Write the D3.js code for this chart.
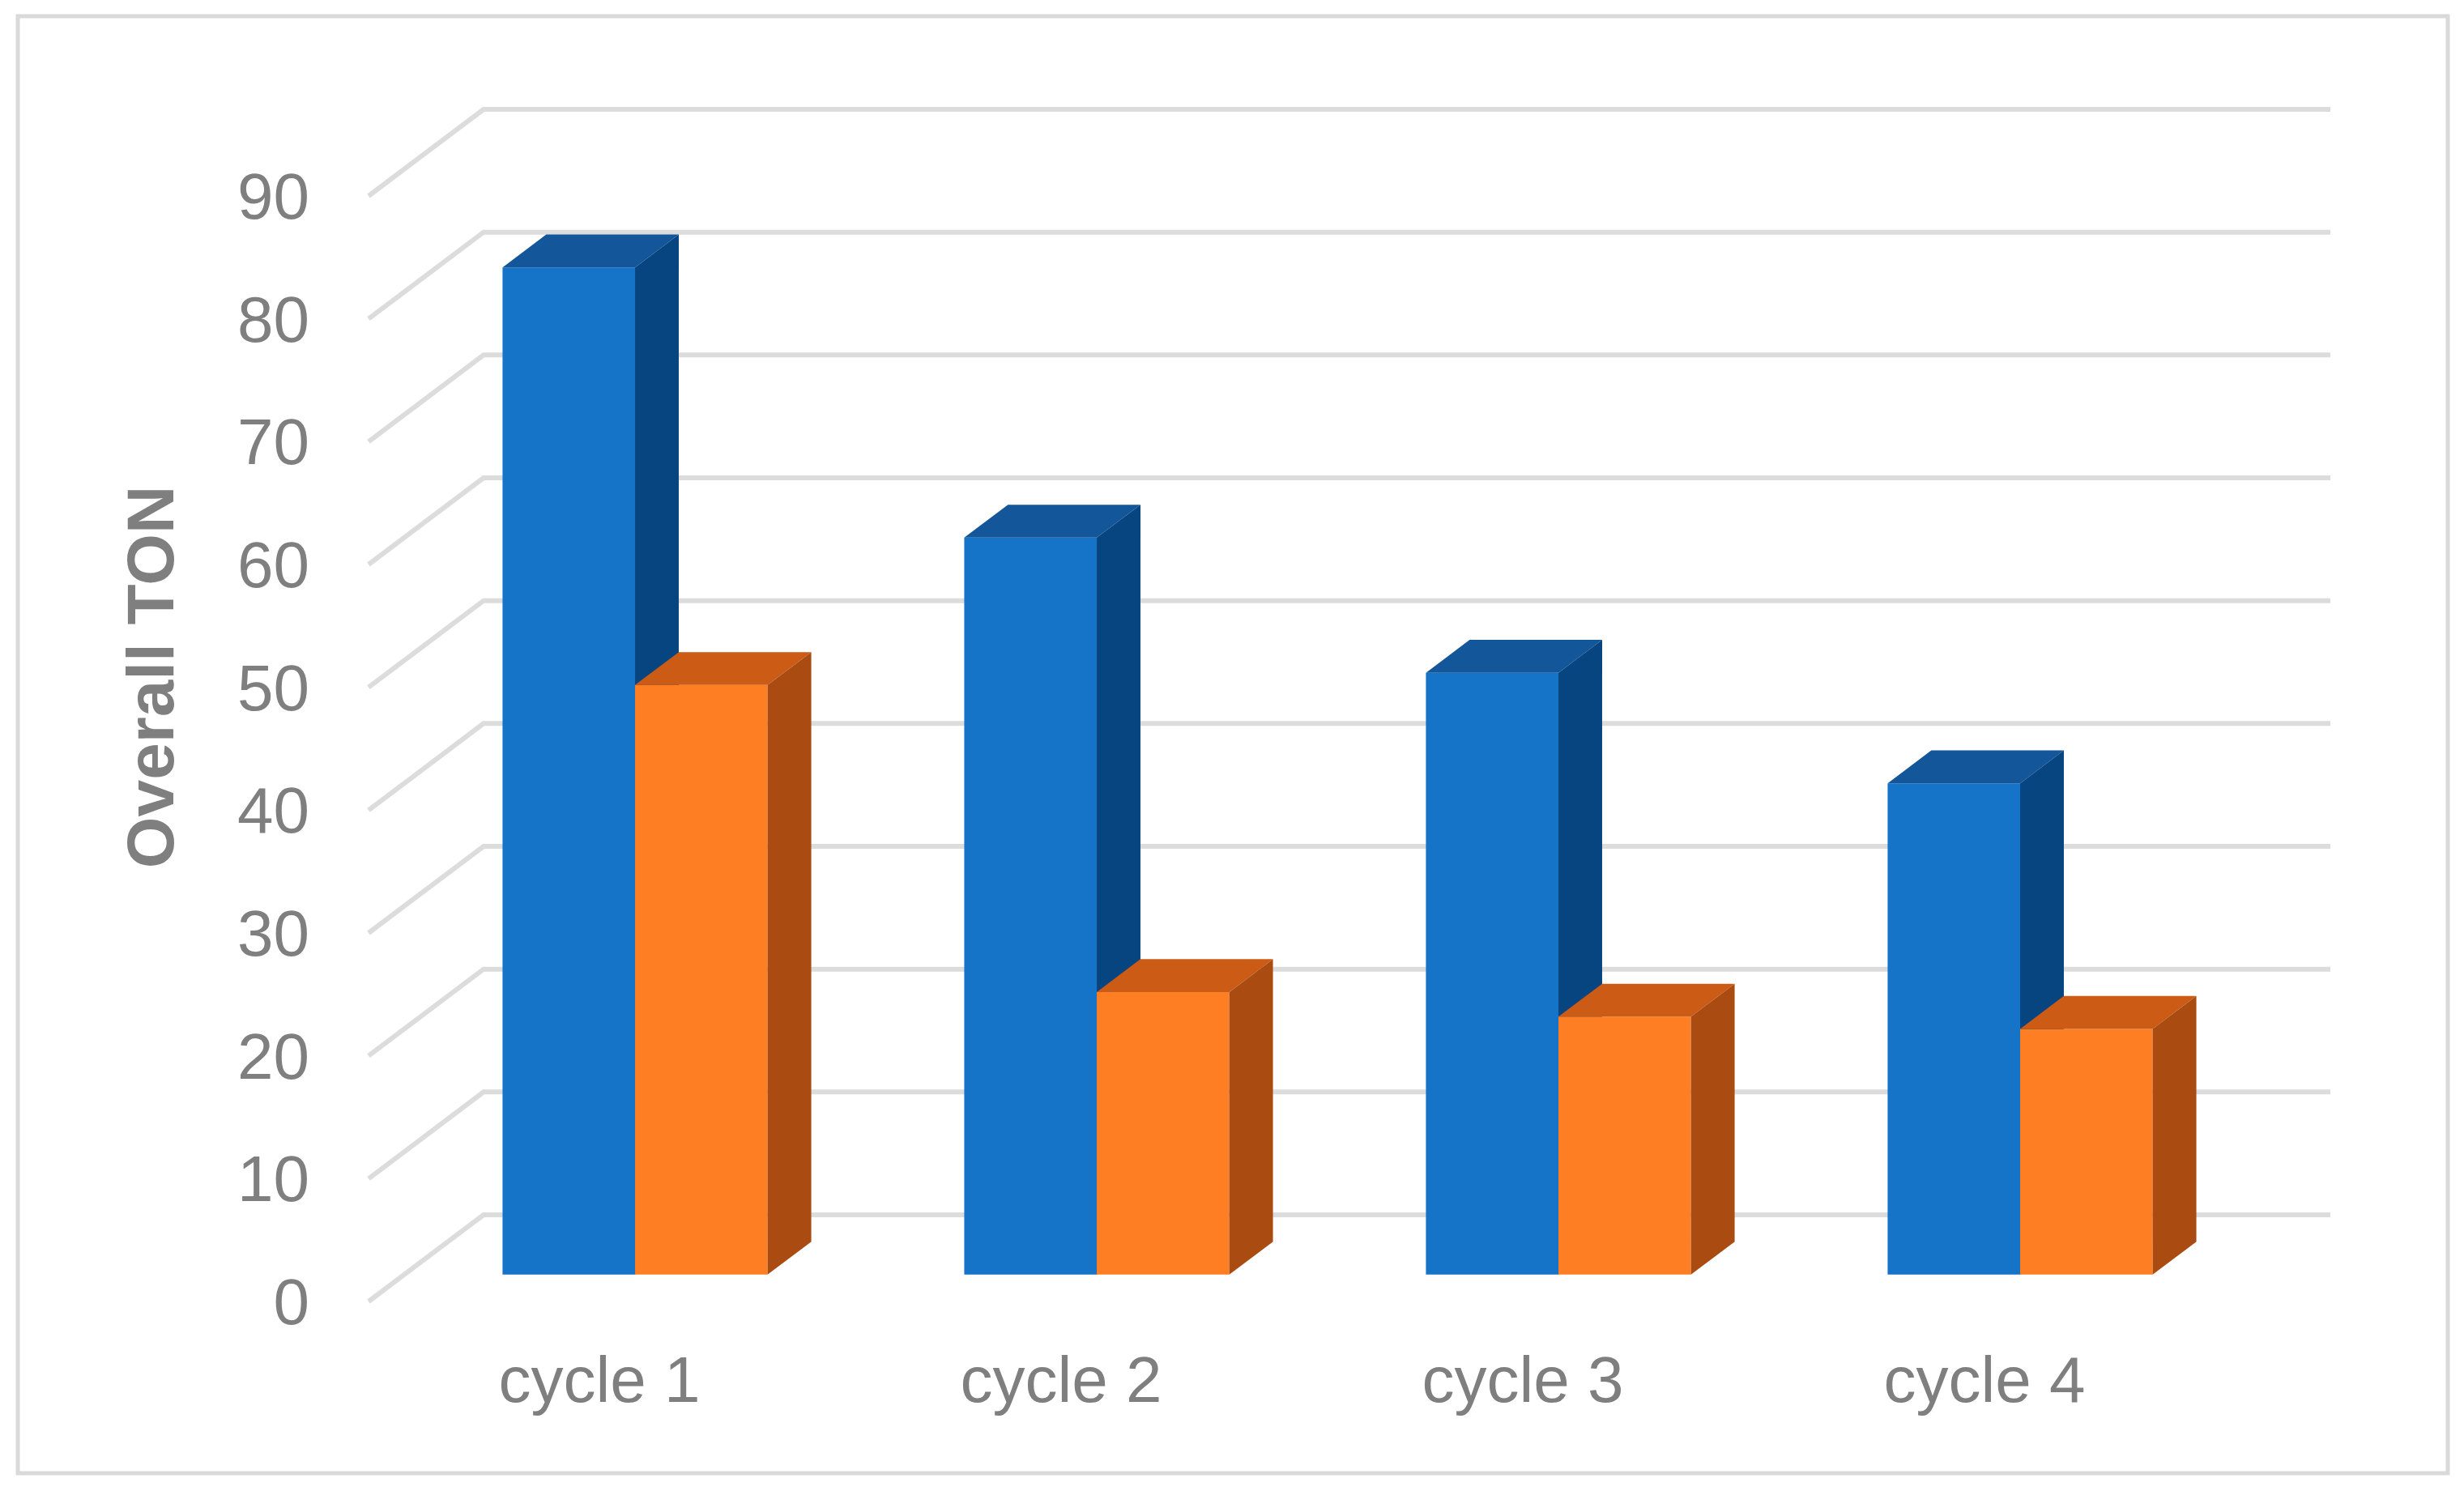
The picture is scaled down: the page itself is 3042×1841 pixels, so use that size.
<!DOCTYPE html>
<html>
<head>
<meta charset="utf-8">
<script src="https://cdn.jsdelivr.net/npm/d3@7"></script>
<style>
  html, body { margin: 0; padding: 0; background: #ffffff; }
  svg text { font-family: 'Liberation Sans', Arial, sans-serif; fill: #7f7f7f; }
</style>
</head>
<body>
<svg id="chartSVG"></svg>
<script>
var chartWidth = 3042
var chartHeight = 1841
var categories = ['cycle 1', 'cycle 2', 'cycle 3', 'cycle 4']
var seriesNames = ['series 1', 'series 2']
var series1Values = [82, 60, 49, 40]
var series2Values = [48, 23, 21, 20]
var yTickValues = [0, 10, 20, 30, 40, 50, 60, 70, 80, 90]
var axisTitle = 'Overall TON'

var frontColors = ['#1573c8', '#fe7f23']
var topColors = ['#13569a', '#cc5b15']
var sideColors = ['#074581', '#aa4c12']

// 3d floor: front edge and how far back the wall sits
var plotLeft = 455, plotRight = 2735
var depthDX = 142, depthDY = 107
var barDepthStart = 0.31, barDepthEnd = 0.69

var svg = d3.select('#chartSVG')
    .attr('width', chartWidth)
    .attr('height', chartHeight)

svg.append('rect')
    .attr('x', 22).attr('y', 20)
    .attr('width', 3000).attr('height', 1799)
    .attr('fill', '#ffffff')
    .attr('stroke', '#d9d9d9')
    .attr('stroke-width', 5)

var yScale = d3.scaleLinear().domain([0, 90]).range([1607, 242])
var xScale = d3.scaleBand().domain(categories).range([plotLeft, plotRight])
    .paddingInner(0.426).paddingOuter(0.213)
var xSubScale = d3.scaleBand().domain(seriesNames).range([0, xScale.bandwidth()]).padding(0)

function project(x, v, depth) {
    return [x + depth * depthDX, yScale(v) - depth * depthDY]
}

// gridlines: diagonal on left wall, then horizontal on back wall
var gridLayer = svg.append('g')
gridLayer.selectAll('path')
    .data(yTickValues)
    .enter()
    .append('path')
    .attr('d', function (v) {
        var a = project(plotLeft, v, 0)
        var b = project(plotLeft, v, 1)
        var c = project(plotRight, v, 1)
        return 'M' + a + 'L' + b + 'L' + c
    })
    .attr('fill', 'none')
    .attr('stroke', '#dcdcdc')
    .attr('stroke-width', 6)

svg.append('g').selectAll('text')
    .data(yTickValues)
    .enter()
    .append('text')
    .attr('x', 382)
    .attr('y', function (v) { return yScale(v) })
    .attr('dy', '0.35em')
    .attr('text-anchor', 'end')
    .style('font-size', '80px')
    .text(function (v) { return v })

svg.append('text')
    .attr('transform', 'translate(214, 836) rotate(-90)')
    .attr('text-anchor', 'middle')
    .style('font-size', '82px')
    .style('font-weight', 'bold')
    .text(axisTitle)

svg.append('g').selectAll('text')
    .data(categories)
    .enter()
    .append('text')
    .attr('x', function (c) { return xScale(c) + xScale.bandwidth() / 2 })
    .attr('y', 1731)
    .attr('text-anchor', 'middle')
    .style('font-size', '80px')
    .text(function (c) { return c })

var barData = []
categories.forEach(function (c, i) {
    barData.push({ cat: c, s: 0, value: series1Values[i] })
    barData.push({ cat: c, s: 1, value: series2Values[i] })
})

var barLayer = svg.append('g')
barData.forEach(function (d) {
    var x0 = xScale(d.cat) + xSubScale(seriesNames[d.s])
    var x1 = x0 + xSubScale.bandwidth()
    var g = barLayer.append('g')
    var fbl = project(x0, 0, barDepthStart), fbr = project(x1, 0, barDepthStart)
    var ftl = project(x0, d.value, barDepthStart), ftr = project(x1, d.value, barDepthStart)
    var btl = project(x0, d.value, barDepthEnd), btr = project(x1, d.value, barDepthEnd)
    var bbr = project(x1, 0, barDepthEnd)
    g.append('path')
        .attr('d', 'M' + fbl + 'L' + fbr + 'L' + ftr + 'L' + ftl + 'Z')
        .attr('fill', frontColors[d.s])
    g.append('path')
        .attr('d', 'M' + ftl + 'L' + ftr + 'L' + btr + 'L' + btl + 'Z')
        .attr('fill', topColors[d.s])
    g.append('path')
        .attr('d', 'M' + fbr + 'L' + bbr + 'L' + btr + 'L' + ftr + 'Z')
        .attr('fill', sideColors[d.s])
})
</script>
</body>
</html>
